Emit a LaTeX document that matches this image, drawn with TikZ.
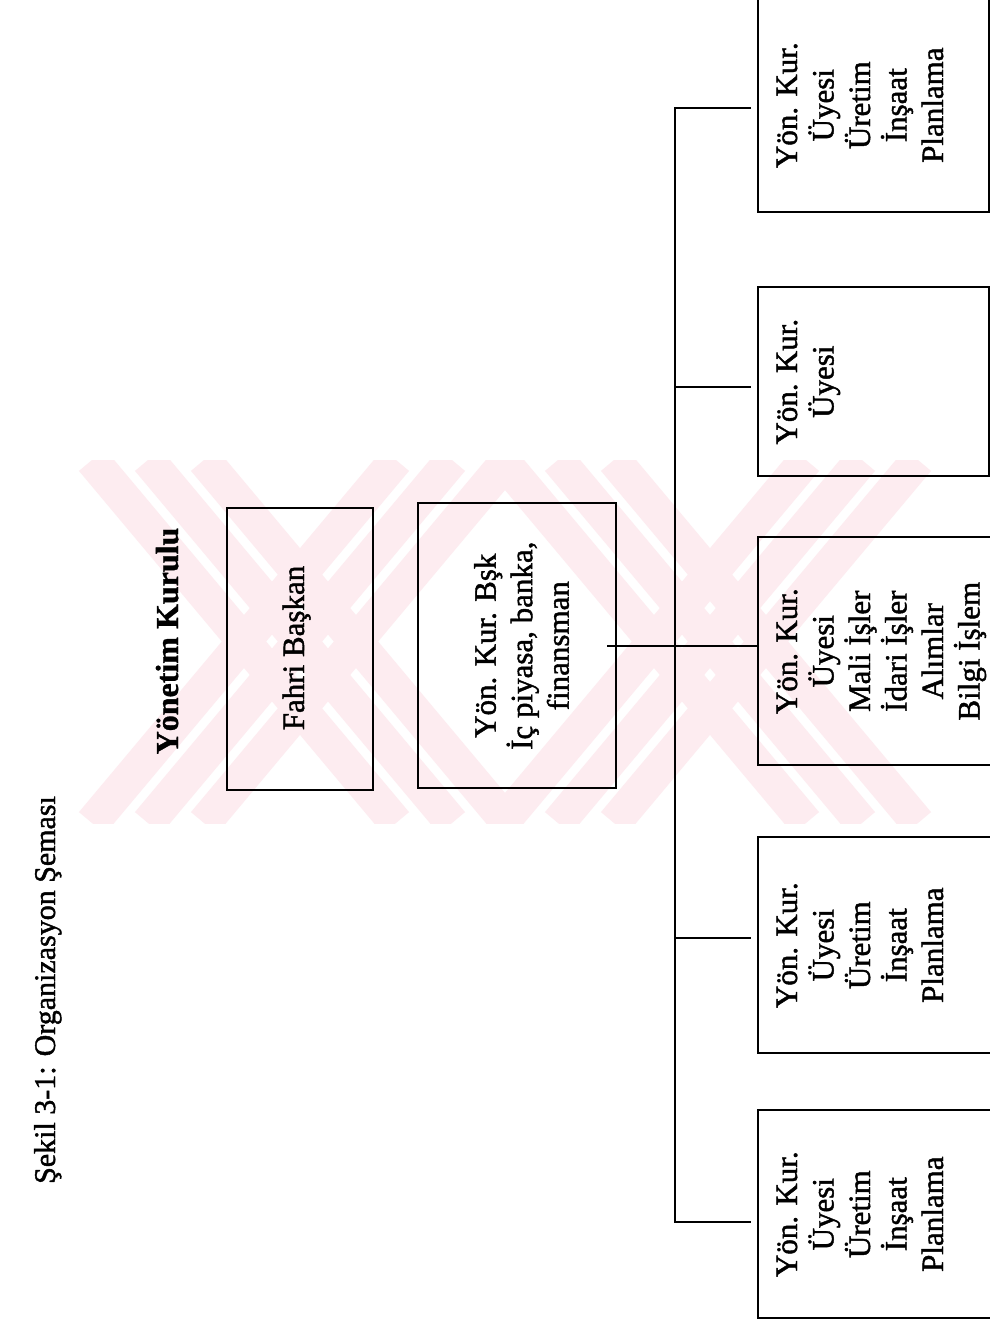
\documentclass[tikz,border=0pt]{standalone}
\usepackage{fontspec}
\setmainfont{Liberation Serif}[UprightFeatures={FakeBold=1.4},BoldFeatures={FakeBold=1.0}]
\definecolor{wmpink}{RGB}{253,236,240}
\begin{document}
\begin{tikzpicture}[x=1pt,y=1pt,
  box/.style={draw, line width=2.4pt, rectangle, inner sep=0pt, anchor=north west},
  lbl/.style={rotate=90, inner sep=0pt, align=center, font=\fontsize{31}{36.5}\selectfont},
  wire/.style={line width=2.1pt},
  wm/.style={line width=34pt, draw=wmpink}]
\clip (0,0) rectangle (990,-1326);
\fill[white] (0,0) rectangle (990,-1326);

% faint watermark stripes
\begin{scope}
  \clip (63,-460) rectangle (948,-823);
  \foreach \cx in {300,710}{
    \foreach \o in {-56,0,56}{
      \draw[wm] (\cx+\o-152,-823) -- (\cx+\o+152,-460);
      \draw[wm] (\cx+\o-152,-460) -- (\cx+\o+152,-823);
    }
  }
\end{scope}

% title and heading
\node[rotate=90, inner sep=0pt, anchor=base, font=\fontsize{30}{36}\selectfont]
  (title) at (55,-990) {Şekil 3-1: Organizasyon Şeması};
\node[rotate=90, inner sep=0pt, anchor=base, font=\fontsize{32}{38}\selectfont\bfseries]
  (head) at (178,-641) {Yönetim Kurulu};

% board boxes
\node[box, minimum width=146pt, minimum height=282pt] (fahri) at (226,-507) {};
\node[box, minimum width=198pt, minimum height=285pt] (bsk) at (417,-502) {};
\node[lbl, anchor=base] (fahriT) at (304,-648) {Fahri Başkan};
\node[lbl, anchor=north] (bskT) at ([xshift=57pt]bsk.west) {Yön. Kur. Bşk\\İç piyasa, banka,\\finansman};

% member boxes
\node[box, minimum width=231pt, minimum height=214pt] (r1) at (757,3) {};
\node[box, minimum width=231pt, minimum height=189pt] (r2) at (757,-286) {};
\node[box, minimum width=245pt, minimum height=228pt] (r3) at (757,-536) {};
\node[box, minimum width=245pt, minimum height=216pt] (r4) at (757,-836) {};
\node[box, minimum width=245pt, minimum height=208pt] (r5) at (757,-1109) {};

\node[lbl, anchor=north] (r1T) at ([xshift=19.5pt]r1.west) {Yön. Kur.\\Üyesi\\Üretim\\İnşaat\\Planlama};
\node[lbl, anchor=north] (r2T) at ([xshift=19.5pt]r2.west) {Yön. Kur.\\Üyesi};
\node[lbl, anchor=north] (r3T) at ([xshift=19.5pt]r3.west) {Yön. Kur.\\Üyesi\\Mali İşler\\İdari İşler\\Alımlar\\Bilgi İşlem};
\node[lbl, anchor=north] (r4T) at ([xshift=19.5pt]r4.west) {Yön. Kur.\\Üyesi\\Üretim\\İnşaat\\Planlama};
\node[lbl, anchor=north] (r5T) at ([xshift=19.5pt]r5.west) {Yön. Kur.\\Üyesi\\Üretim\\İnşaat\\Planlama};

% connectors
\coordinate (s1) at (675,-108);
\coordinate (s2) at (675,-387);
\coordinate (s4) at (675,-938);
\coordinate (s5) at (675,-1222);
\draw[wire, line join=miter, shorten <=6pt, shorten >=6pt]
  (s1 -| r1.west) -- (s1) -- (s5) -- (s5 -| r5.west);
\draw[wire, shorten >=6pt] (s2) -- (s2 -| r2.west);
\draw[wire, shorten >=6pt] (s4) -- (s4 -| r4.west);
\draw[wire] ([xshift=-10pt]bsk.east) -- (bsk.east -| r3.west);
\end{tikzpicture}
\end{document}
